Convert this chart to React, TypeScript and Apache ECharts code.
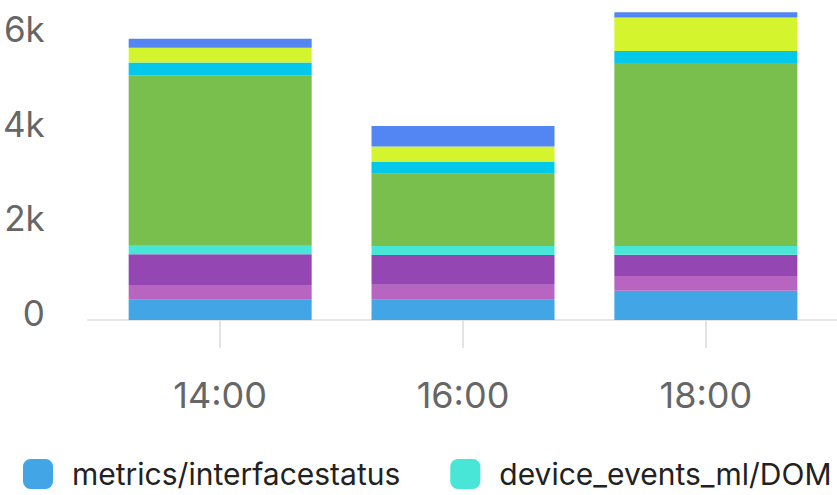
import React, { useEffect, useRef } from "react";
import * as echarts from "echarts";

const hours = [14, 16, 18];
const tickLabels = ["14:00", "16:00", "18:00"];

const metricsInterfacestatus = [430, 430, 620];
const seriesB = [311, 317, 311];
const seriesC = [650, 629, 451];
const deviceEventsMlDom = [182, 190, 184];
const seriesE = [3606, 1530, 3873];
const seriesF = [267, 248, 254];
const seriesG = [311, 324, 705];
const seriesH = [190, 438, 114];

const stackSeries = [
  { name: "metrics/interfacestatus", values: metricsInterfacestatus, color: "#41A5E6" },
  { name: "series_b", values: seriesB, color: "#B865C2" },
  { name: "series_c", values: seriesC, color: "#9447B3" },
  { name: "device_events_ml/DOM", values: deviceEventsMlDom, color: "#47E6D6" },
  { name: "series_e", values: seriesE, color: "#79BF4D" },
  { name: "series_f", values: seriesF, color: "#04C8EA" },
  { name: "series_g", values: seriesG, color: "#D4F52E" },
  { name: "series_h", values: seriesH, color: "#5386F2" },
];

const legendNames = ["metrics/interfacestatus", "device_events_ml/DOM"];

export default function App() {
  const ref = useRef<HTMLDivElement>(null);
  useEffect(() => {
    document.body.style.margin = "0";
    if (!ref.current) return;
    const chart = echarts.init(ref.current, null, { renderer: "svg" });
    chart.setOption({
      animation: false,
      textStyle: { fontFamily: "Inter" },
      grid: { left: 87, right: 0, top: 8, bottom: 175 },
      legend: {
        data: legendNames,
        left: 18,
        top: 454,
        width: 1000,
        icon: "roundRect",
        itemWidth: 30,
        itemHeight: 30,
        itemGap: 50,
        textStyle: { fontSize: 30, color: "#222", fontFamily: "Inter", padding: [0, 0, 0, 14] },
      },
      xAxis: {
        type: "value",
        min: 12.91,
        max: 19.08,
        axisLine: { lineStyle: { color: "#e6e6e6", width: 2 } },
        axisTick: { customValues: hours, length: 28, lineStyle: { color: "#e3e3e3", width: 2 } },
        axisLabel: {
          customValues: hours,
          formatter: (v: number) => tickLabels[hours.indexOf(v)] ?? "",
          fontSize: 36,
          color: "#666",
          margin: 57,
          fontFamily: "Inter",
        },
        splitLine: { show: false },
      },
      yAxis: {
        type: "value",
        min: 0,
        max: 6600,
        interval: 2000,
        splitLine: { show: false },
        axisLine: { show: false },
        axisTick: { show: false },
        axisLabel: {
          formatter: (v: number) => (v === 0 ? "0" : v / 1000 + "k"),
          fontSize: 35,
          color: "#666",
          margin: 43,
          verticalAlign: "bottom",
          lineHeight: 14,
          fontFamily: "Inter",
          showMaxLabel: false,
        },
      },
      series: stackSeries.map((s) => ({
        name: s.name,
        type: "bar",
        stack: "total",
        barWidth: 183,
        encode: { x: 1, y: 0 },
        itemStyle: { color: s.color },
        data: s.values.map((v, i) => [v, hours[i]]),
      })),
    });
    return () => chart.dispose();
  }, []);
  return <div ref={ref} style={{ width: 837, height: 495 }} />;
}
